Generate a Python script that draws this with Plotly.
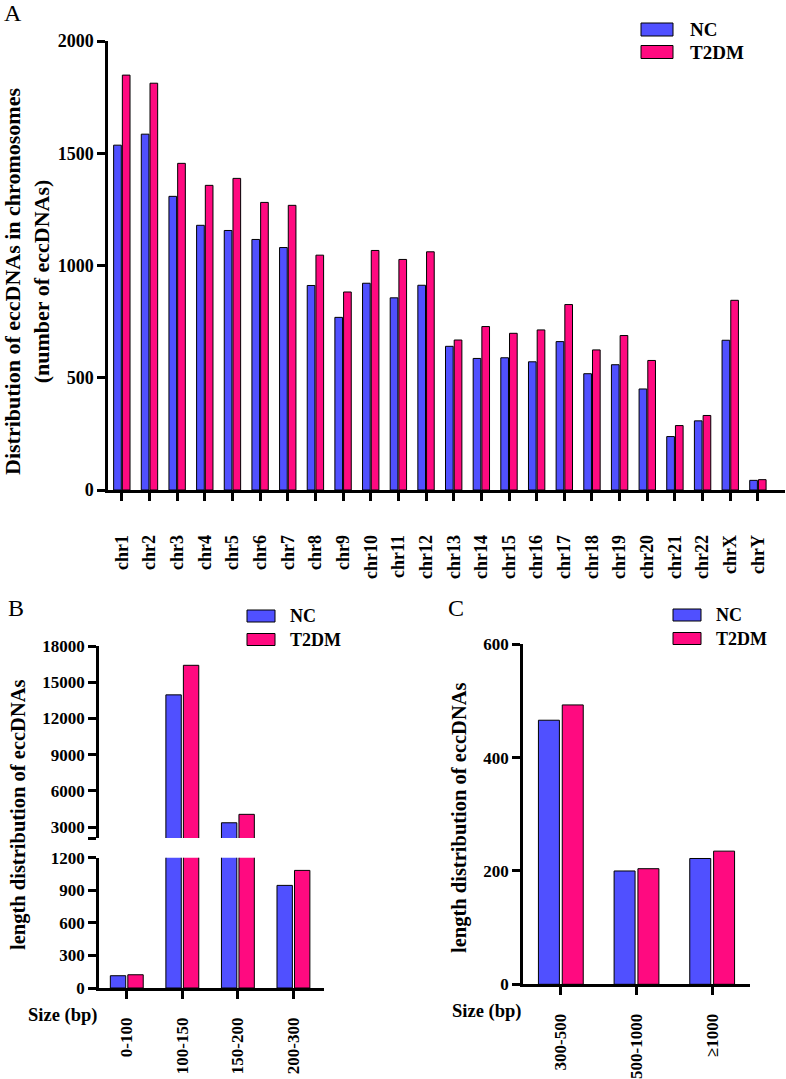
import plotly.graph_objects as go

W, H = 786, 1079

# ---------------- data ----------------
chroms = ['chr1', 'chr2', 'chr3', 'chr4', 'chr5', 'chr6', 'chr7', 'chr8', 'chr9', 'chr10',
          'chr11', 'chr12', 'chr13', 'chr14', 'chr15', 'chr16', 'chr17', 'chr18', 'chr19',
          'chr20', 'chr21', 'chr22', 'chrX', 'chrY']
nc_chr = [1536, 1585, 1308, 1179, 1156, 1116, 1080, 911, 769, 921, 856, 912,
          640, 586, 589, 571, 661, 518, 558, 450, 238, 308, 667, 43]
t2dm_chr = [1848, 1812, 1455, 1357, 1388, 1281, 1268, 1046, 882, 1067, 1027, 1061,
            668, 728, 698, 713, 826, 624, 688, 577, 287, 332, 845, 46]

size_short = ['0-100', '100-150', '150-200', '200-300']
nc_short = [113, 13950, 3350, 945]
t2dm_short = [122, 16400, 4050, 1083]

size_long = ['300-500', '500-1000', '≥1000']
nc_long = [466, 200, 222]
t2dm_long = [493, 204, 235]

groups = ['NC', 'T2DM']
colors = {'NC': '#5050FF', 'T2DM': '#FF0A80'}

FONT = 'Liberation Serif'


def px(x):
    return x / W


def py(y):
    return 1 - y / H


fig = go.Figure()


def add_pair(cats, nc, t2, xa, ya):
    for name, vals in (('NC', nc), ('T2DM', t2)):
        fig.add_trace(go.Bar(
            x=cats, y=vals, name=name, xaxis=xa, yaxis=ya, showlegend=False,
            marker=dict(color=colors[name], line=dict(color='black', width=1)),
            hoverinfo='x+y+name'))


add_pair(chroms, nc_chr, t2dm_chr, 'x', 'y')
add_pair(size_short, nc_short, t2dm_short, 'x2', 'y2')
add_pair(size_short, nc_short, t2dm_short, 'x3', 'y3')
add_pair(size_long, nc_long, t2dm_long, 'x4', 'y4')

LW = 2.5
tick_common = dict(ticks='outside', ticklen=8, tickwidth=LW, tickcolor='black',
                   showline=True, linecolor='black', linewidth=LW,
                   showgrid=False, zeroline=False, automargin=False)
yfont = dict(family=FONT, size=18, color='black', weight='bold')
yfont_s = dict(family=FONT, size=17, color='black', weight='bold')
xfont = dict(family=FONT, size=18, color='black', weight='bold')
xfont_s = dict(family=FONT, size=17, color='black', weight='bold')

upper_vals = [2088, 3000, 6000, 9000, 12000, 15000, 18000]
upper_text = [''] + [str(v) for v in upper_vals[1:]]

fig.update_layout(
    width=W, height=H, margin=dict(l=0, r=0, t=0, b=0, pad=0, autoexpand=False),
    paper_bgcolor='white', plot_bgcolor='white',
    barmode='group', bargap=0.37, bargroupgap=0.12,
    font=dict(family=FONT, color='black'),
    showlegend=False,
    # Panel A
    xaxis=dict(domain=[px(108), px(785)], anchor='y', type='category',
               range=[-0.5, 23.98], tickangle=-90, tickfont=xfont,
               ticklabelstandoff=27, **tick_common),
    yaxis=dict(domain=[py(490), py(41)], anchor='x', range=[0, 2000],
               tickvals=[0, 500, 1000, 1500, 2000], tickfont=yfont, **tick_common),
    # Panel B lower
    xaxis2=dict(domain=[px(99), px(324)], anchor='y2', type='category',
                range=[-0.5, 3.55], tickangle=-90, tickfont=xfont_s,
                ticklabelstandoff=12, **tick_common),
    yaxis2=dict(domain=[py(988), py(857.7)], anchor='x2', range=[0, 1200],
                tickvals=[0, 300, 600, 900, 1200], tickfont=yfont_s, **tick_common),
    # Panel B upper
    xaxis3=dict(domain=[px(99), px(324)], anchor='y3', type='category',
                range=[-0.5, 3.55], visible=False),
    yaxis3=dict(domain=[py(838), py(646)], anchor='x3', range=[2088, 18000],
                tickvals=upper_vals, ticktext=upper_text, tickfont=yfont_s, **tick_common),
    # Panel C
    xaxis4=dict(domain=[px(523), px(750)], anchor='y4', type='category',
                range=[-0.5, 2.5], tickangle=-90, tickfont=xfont_s,
                ticklabelstandoff=12, **tick_common),
    yaxis4=dict(domain=[py(984.3), py(644.3)], anchor='x4', range=[0, 600],
                tickvals=[0, 200, 400, 600], tickfont=yfont_s, **tick_common),
)

annotations = []
shapes = []


def txt(x, y, s, size, bold=True, angle=0, xanchor='center', yanchor='middle'):
    annotations.append(dict(
        x=px(x), y=py(y), xref='paper', yref='paper', text=s, showarrow=False,
        textangle=angle, xanchor=xanchor, yanchor=yanchor,
        font=dict(family=FONT, size=size, color='black', weight='bold' if bold else 'normal')))


# Panel letters
txt(2, 13, 'A', 24, bold=False, xanchor='left')
txt(6, 608, 'B', 24, bold=False, xanchor='left')
txt(446, 608, 'C', 24, bold=False, xanchor='left')

# Y titles
txt(27, 282, 'Distribution of eccDNAs in chromosomes<br>(number of eccDNAs)', 22, angle=-90)
txt(18, 815, 'length distribution of eccDNAs', 20.5, angle=-90)
txt(460, 818, 'length distribution of eccDNAs', 20.5, angle=-90)

# Size (bp) labels
txt(62, 1015, 'Size (bp)', 18.5)
txt(486, 1011, 'Size (bp)', 18.5)


def legend(x0, x1, ys, h, tx, size):
    for name, yc in zip(groups, ys):
        shapes.append(dict(type='rect', xref='paper', yref='paper',
                           x0=px(x0), x1=px(x1), y0=py(yc + h / 2), y1=py(yc - h / 2),
                           fillcolor=colors[name], line=dict(color='black', width=1)))
        txt(tx, yc, name, size, xanchor='left')


legend(641, 673, [29.5, 52], 13, 688, 19)
legend(247, 275, [616, 639.5], 12, 288, 18)
legend(673, 701, [615, 638.5], 12, 714, 18)

fig.update_layout(annotations=annotations, shapes=shapes)

fig.write_html('out.html', config={'displayModeBar': False},
               post_script="document.body.style.margin='0';document.body.style.padding='0';")
